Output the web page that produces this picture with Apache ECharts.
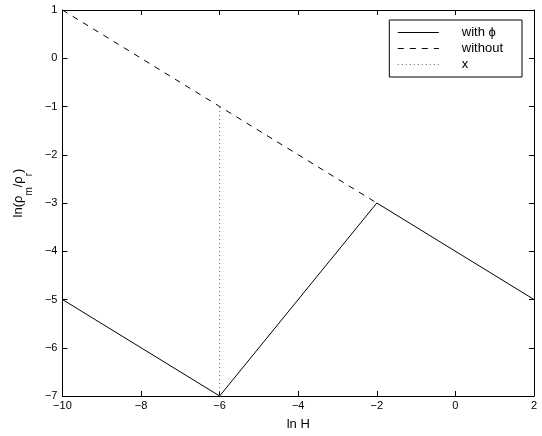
<!DOCTYPE html>
<html><head><meta charset="utf-8">
<script src="https://cdn.jsdelivr.net/npm/echarts@6/dist/echarts.min.js"></script>
<style>html,body{margin:0;padding:0;background:#fff}#c{width:542px;height:436px}</style>
</head><body><div id="c"></div>
<script>
var withPhiX = [-10, -6, -2, 2];
var withPhiY = [-5, -7, -3, -5];
var withoutX = [-10, -6, -2];
var withoutY = [1, -1, -3];
var xLineX = [-6, -6];
var xLineY = [-7, -1];
var seriesNames = ['with \u03d5', 'without', 'x'];

function pairs(xs, ys) { return xs.map(function (x, i) { return [x, ys[i]]; }); }
function fmt(v) { return String(v).replace('-', '\u2212'); }
var font = 'Liberation Sans, Arial, sans-serif';

var chart = echarts.init(document.getElementById('c'), null, { renderer: 'canvas' });
function ax(extra) {
  return Object.assign({
    axisLine: { show: true, onZero: false, lineStyle: { color: '#000', width: 1 } },
    axisTick: { show: true, inside: true, length: 5, lineStyle: { color: '#000' } },
    splitLine: { show: false }
  }, extra);
}
chart.setOption({
  backgroundColor: '#fff',
  animation: false,
  grid: { left: 36, right: 8, top: 10, bottom: 33 },
  legend: {
    data: seriesNames,
    orient: 'vertical',
    right: 20, top: 20,
    padding: [6, 19, 6, 8],
    itemWidth: 41, itemHeight: 10, itemGap: 3,
    borderColor: '#000', borderWidth: 1,
    backgroundColor: '#fff',
    itemStyle: { opacity: 0 },
    lineStyle: { width: 1 },
    textStyle: { fontFamily: font, fontSize: 13, color: '#000', padding: [0, 0, 0, 18], lineHeight: 13 }
  },
  xAxis: [
    ax({
      type: 'value', min: -10, max: 2, interval: 2,
      name: 'ln H', nameLocation: 'middle', nameGap: 22,
      nameTextStyle: { fontFamily: font, fontSize: 13, color: '#000' },
      axisLabel: { fontFamily: font, fontSize: 11, color: '#000', margin: 4, formatter: fmt }
    }),
    ax({
      type: 'value', min: -10, max: 2, interval: 2, position: 'top',
      axisLabel: { show: false }
    })
  ],
  yAxis: [
    ax({
      type: 'value', min: -7, max: 1, interval: 1,
      name: 'ln(\u03c1{sub|m}/\u03c1{sub|r})', nameLocation: 'middle', nameGap: 22,
      nameTextStyle: {
        fontFamily: font, fontSize: 13, color: '#000', lineHeight: 20, verticalAlign: 'middle',
        padding: [0, 0, 0, 20],
        rich: { sub: { fontFamily: font, fontSize: 10, color: '#000', verticalAlign: 'bottom', lineHeight: 20, padding: [0, 0, -6, 0] } }
      },
      axisLabel: { fontFamily: font, fontSize: 11, color: '#000', margin: 5, formatter: fmt }
    }),
    ax({
      type: 'value', min: -7, max: 1, interval: 1, position: 'right',
      axisLabel: { show: false }
    })
  ],
  series: [
    { name: seriesNames[0], type: 'line', data: pairs(withPhiX, withPhiY), symbol: 'none', symbolSize: 0,
      lineStyle: { color: '#000', width: 1, type: 'solid' }, itemStyle: { color: '#000' } },
    { name: seriesNames[1], type: 'line', data: pairs(withoutX, withoutY), symbol: 'none', symbolSize: 0,
      lineStyle: { color: '#000', width: 1, type: [6, 6] }, itemStyle: { color: '#000' } },
    { name: seriesNames[2], type: 'line', data: pairs(xLineX, xLineY), symbol: 'none', symbolSize: 0,
      lineStyle: { color: '#666', width: 1, type: [1, 3] }, itemStyle: { color: '#666' } }
  ]
});
</script></body></html>
